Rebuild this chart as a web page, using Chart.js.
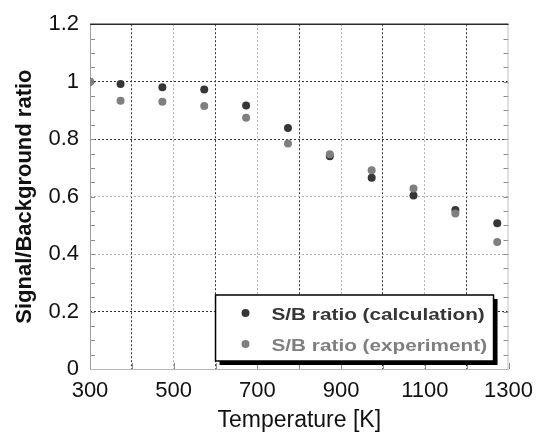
<!DOCTYPE html>
<html><head><meta charset="utf-8">
<script src="https://cdn.jsdelivr.net/npm/chart.js@4/dist/chart.umd.min.js"></script>
<style>html,body{margin:0;padding:0;background:#fff}#wrap{width:542px;height:437px}</style>
</head><body><div id="wrap"><canvas id="c" width="542" height="437"></canvas></div>
<script>
const temperatures = [300, 373, 473, 573, 673, 773, 873, 973, 1073, 1173, 1273];
const calcRatio = [1.0, 0.992, 0.981, 0.973, 0.917, 0.839, 0.740, 0.666, 0.604, 0.553, 0.507];
const expRatio = [1.0, 0.934, 0.930, 0.915, 0.874, 0.785, 0.747, 0.692, 0.628, 0.541, 0.442];
const xTickLabels = [300, 500, 700, 900, 1100, 1300];
const yTickLabels = [0, 0.2, 0.4, 0.6, 0.8, 1, 1.2];
const seriesNames = ['S/B ratio (calculation)', 'S/B ratio (experiment)'];
const seriesColors = ['#363636', '#7f7f7f'];

const FONT = "'Liberation Sans', Arial, sans-serif";

const decorPlugin = {
  id: 'decor',
  beforeDatasetsDraw(chart) {
    const {ctx, chartArea: ca, scales: {x, y}} = chart;
    ctx.save();
    ctx.strokeStyle = '#8a8a8a';
    ctx.lineWidth = 1;
    y.ticks.forEach(t => {
      const py = Math.round(y.getPixelForValue(t.value)) + 0.5;
      ctx.beginPath(); ctx.moveTo(ca.left, py); ctx.lineTo(ca.left + 5, py); ctx.stroke();
      ctx.beginPath(); ctx.moveTo(ca.right - 5, py); ctx.lineTo(ca.right, py); ctx.stroke();
    });
    x.ticks.forEach(t => {
      const px = Math.round(x.getPixelForValue(t.value)) + 0.5;
      ctx.beginPath(); ctx.moveTo(px, ca.bottom); ctx.lineTo(px, ca.bottom - 6); ctx.stroke();
    });
    ctx.lineWidth = 1;
    ctx.strokeStyle = '#a0a0a0';
    ctx.beginPath(); ctx.moveTo(ca.left + 0.5, ca.top); ctx.lineTo(ca.left + 0.5, ca.bottom); ctx.stroke();
    ctx.strokeStyle = '#b5b5b5';
    ctx.beginPath(); ctx.moveTo(ca.left, ca.bottom + 0.5); ctx.lineTo(ca.right, ca.bottom + 0.5); ctx.stroke();
    ctx.strokeStyle = '#c0c0c0';
    ctx.beginPath(); ctx.moveTo(ca.right - 0.5, ca.top); ctx.lineTo(ca.right - 0.5, ca.bottom); ctx.stroke();
    ctx.strokeStyle = '#2a2a2a';
    ctx.lineWidth = 1.5;
    ctx.beginPath(); ctx.moveTo(ca.left, ca.top); ctx.lineTo(ca.right, ca.top); ctx.stroke();
    ctx.restore();
  },
  afterDatasetsDraw(chart) {
    const {ctx, chartArea: ca} = chart;
    const bx = ca.right - 293, by = ca.bottom - 74, bw = 278, bh = 66;
    ctx.save();
    ctx.fillStyle = '#000';
    ctx.fillRect(bx + 4, by + 4, bw, bh);
    ctx.fillStyle = '#fff';
    ctx.fillRect(bx, by, bw, bh);
    ctx.strokeStyle = '#000';
    ctx.lineWidth = 1.5;
    ctx.strokeRect(bx, by, bw, bh);
    chart.data.datasets.forEach((ds, i) => {
      const rowY = by + 18 + i * 31;
      ctx.fillStyle = ds.backgroundColor;
      ctx.beginPath(); ctx.arc(bx + 30, rowY, 4, 0, Math.PI * 2); ctx.fill();
      ctx.save();
      ctx.translate(bx + 56, rowY + 2);
      ctx.scale(1.22, 1);
      ctx.font = 'bold 17px ' + FONT;
      ctx.textBaseline = 'middle';
      ctx.textAlign = 'left';
      ctx.fillText(ds.label, 0, 0);
      ctx.restore();
    });
    ctx.restore();
  }
};

const isMult = (v, step) => Math.abs(v / step - Math.round(v / step)) < 1e-6;

new Chart(document.getElementById('c'), {
  type: 'scatter',
  data: {
    datasets: [
      {
        label: seriesNames[0],
        data: temperatures.map((t, i) => ({x: t, y: calcRatio[i]})),
        backgroundColor: seriesColors[0],
        borderWidth: 0,
        pointRadius: 4,
        order: 1
      },
      {
        label: seriesNames[1],
        data: temperatures.map((t, i) => ({x: t, y: expRatio[i]})),
        backgroundColor: seriesColors[1],
        borderWidth: 0,
        pointRadius: 4,
        order: 0
      }
    ]
  },
  options: {
    responsive: false,
    devicePixelRatio: 1,
    animation: false,
    layout: {padding: {left: 0, top: 22, right: 32, bottom: 0}},
    plugins: {legend: {display: false}, tooltip: {enabled: false}},
    scales: {
      x: {
        type: 'linear', min: 300, max: 1300,
        afterFit(s) { s.height = 68; },
        ticks: {
          stepSize: 100, autoSkip: false, maxRotation: 0, padding: 9,
          color: '#111', font: {family: FONT, size: 22},
          callback: v => xTickLabels.includes(v) ? String(v) : ''
        },
        grid: {
          drawTicks: false, lineWidth: 1,
          color: c => {
            const v = c.tick ? c.tick.value : null;
            if (v === null || v === 300 || v === 1300) return 'transparent';
            return ((v - 300) % 200 === 100) ? '#333' : '#b0b0b0';
          }
        },
        border: {display: false, dash: [2, 2]},
        title: {display: true, text: 'Temperature [K]', color: '#111',
          font: {family: FONT, size: 23}, padding: {top: 0, bottom: 3}}
      },
      y: {
        min: 0, max: 1.2,
        afterFit(s) { s.width = 90; },
        ticks: {
          stepSize: 0.05, autoSkip: false, padding: 11,
          color: '#111', font: {family: FONT, size: 22},
          callback: v => {
            const lbl = yTickLabels.find(l => Math.abs(l - v) < 1e-6);
            return lbl === undefined ? '' : String(lbl);
          }
        },
        grid: {
          drawTicks: false, lineWidth: 1,
          color: c => {
            const v = c.tick ? c.tick.value : null;
            if (v === null || !isMult(v, 0.2) || Math.abs(v) < 1e-6 || Math.abs(v - 1.2) < 1e-6) return 'transparent';
            return (Math.abs(v - 0.6) < 1e-6 || Math.abs(v - 0.4) < 1e-6) ? '#b0b0b0' : '#333';
          }
        },
        border: {display: false, dash: [2, 2]},
        title: {display: true, text: 'Signal/Background ratio', color: '#111',
          font: {family: FONT, size: 22, weight: 'bold'}, padding: {top: 12, bottom: 0}}
      }
    }
  },
  plugins: [decorPlugin]
});
</script>
</body></html>
